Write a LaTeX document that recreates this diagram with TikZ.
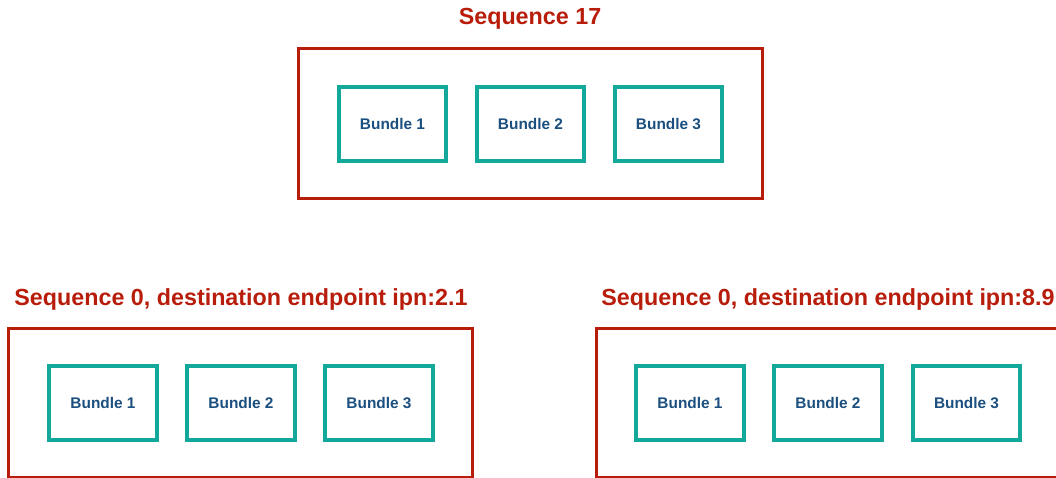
\documentclass[tikz,border=0pt]{standalone}
\usepackage{fontspec}
\setmainfont{Liberation Sans}
\usetikzlibrary{shadows}
\definecolor{seqred}{HTML}{B81D0B}
\definecolor{bundleteal}{HTML}{12A99B}
\definecolor{bundleblue}{HTML}{1B4F7F}
\tikzset{
  seqbox/.style={draw=seqred, line width=3.4pt, fill=white,
    drop shadow={opacity=0.18, shadow xshift=0pt, shadow yshift=-1.2pt}},
  seqtitle/.style={text=seqred, font=\fontsize{23.3}{27}\selectfont\bfseries, inner sep=0pt},
  bundlebox/.style={draw=bundleteal, line width=3.6pt, fill=white,
    minimum width=107.5pt, minimum height=74.5pt, inner sep=0pt,
    text=bundleblue, font=\fontsize{15.4}{18}\selectfont\bfseries,
    drop shadow={opacity=0.22, shadow xshift=0pt, shadow yshift=-1.5pt}}
}
\begin{document}
\begin{tikzpicture}[x=1pt,y=-1pt]
\useasboundingbox (0,0) rectangle (1056,477);
\begin{scope}
\clip (0,0) rectangle (1056,477);

% upper group
\node[seqtitle] (t17) at (530,19) {Sequence 17};
\path[seqbox] (298.5,48.5) rectangle (762.5,198.5);
\node[bundlebox] (a1) at (392.5,124) {Bundle 1};
\node[bundlebox] (a2) at (530.5,124) {Bundle 2};
\node[bundlebox] (a3) at (668.5,124) {Bundle 3};

% lower left group
\node[seqtitle] (tl) at (241,299) {Sequence 0, destination endpoint ipn:2.1};
\path[seqbox] (8.5,328.5) rectangle (472.5,478);
\node[bundlebox] (b1) at (103,403) {Bundle 1};
\node[bundlebox] (b2) at (241,403) {Bundle 2};
\node[bundlebox] (b3) at (379,403) {Bundle 3};

% lower right group
\node[seqtitle] (tr) at (828,299) {Sequence 0, destination endpoint ipn:8.9};
\path[seqbox] (596.5,328.5) rectangle (1062,478);
\node[bundlebox] (c1) at (690,403) {Bundle 1};
\node[bundlebox] (c2) at (828,403) {Bundle 2};
\node[bundlebox] (c3) at (966.5,403) {Bundle 3};
\end{scope}
\end{tikzpicture}
\end{document}
